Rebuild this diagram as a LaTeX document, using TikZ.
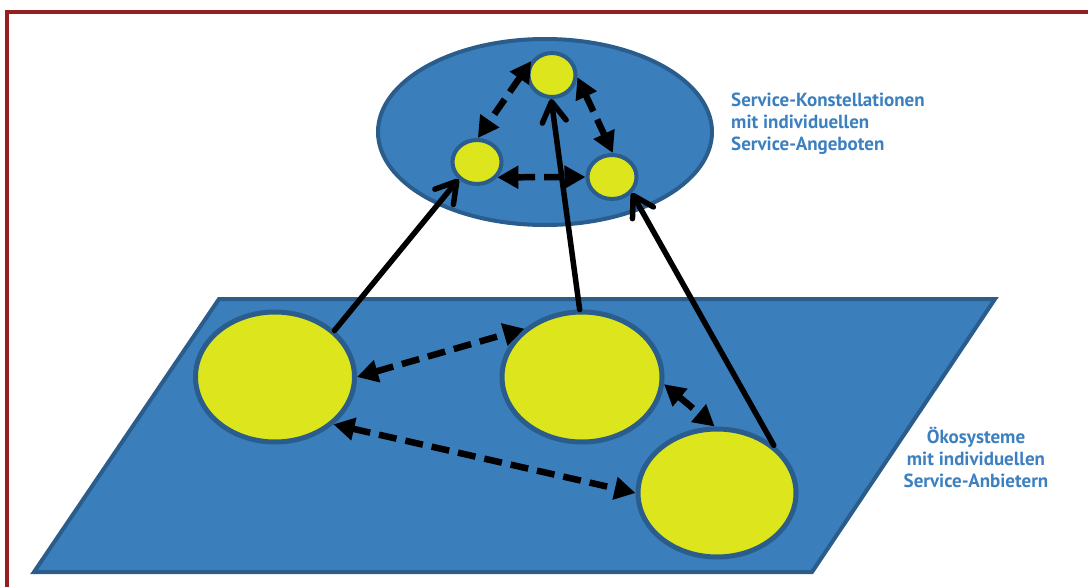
\documentclass[tikz,border=0pt]{standalone}
\usepackage{fontspec}
\setsansfont{PT Sans}
\usetikzlibrary{shapes.geometric,arrows.meta}
\definecolor{bluefill}{RGB}{58,126,187}
\definecolor{blueedge}{RGB}{42,92,140}
\definecolor{yell}{RGB}{221,230,28}
\definecolor{framered}{RGB}{150,30,30}
\definecolor{txtblue}{RGB}{60,128,192}
\begin{document}
\begin{tikzpicture}[x=1pt,y=-1pt,
  bigyellow/.style={ellipse, fill=yell, draw=blueedge, line width=5pt, inner sep=0pt, outer sep=2.5pt},
  smallyellow/.style={ellipse, fill=yell, draw=blueedge, line width=4pt, inner sep=0pt, outer sep=2pt},
  solidarrow/.style={line width=5.5pt, line cap=round, -{Straight Barb[length=20pt,width=24pt,line cap=round,line join=round]}},
  dasharrow/.style={line width=6.5pt, dash pattern=on 18pt off 9pt, {Triangle[length=21pt,width=22pt]}-{Triangle[length=21pt,width=22pt]}},
  label/.style={inner sep=0pt, text=txtblue, font=\sffamily\bfseries\fontsize{19}{22}\selectfont}
]
\useasboundingbox (0,0) rectangle (1088,587);
\draw[framered, line width=4pt] (7,587) -- (7,12) -- (1088,12);
% plane
\draw[fill=bluefill, draw=blueedge, line width=4pt, line join=miter] (219,299) -- (995,299) -- (812,572) -- (34,572) -- cycle;
% constellation ellipse
\node[ellipse, fill=bluefill, draw=blueedge, line width=4pt, inner sep=0pt, minimum width=334pt, minimum height=186pt] (E) at (545,132) {};
% ecosystems
\node[bigyellow, minimum width=159pt, minimum height=130pt] (A) at (275,377) {};
\node[bigyellow, minimum width=160pt, minimum height=130pt] (B) at (582,377) {};
\node[bigyellow, minimum width=158pt, minimum height=128pt] (C) at (717,493) {};
% service offers
\node[smallyellow, minimum width=47pt, minimum height=44pt] (T) at (552,75) {};
\node[smallyellow, minimum width=49pt, minimum height=44pt] (L) at (477,162) {};
\node[smallyellow, minimum width=49pt, minimum height=44pt] (R) at (612,177) {};
% dashed double arrows
\draw[dasharrow] (A.0) -- (B.140);
\draw[dasharrow] (A.-39) -- (C.180);
\draw[dasharrow] (B.-5) -- (C.92);
\draw[dasharrow] (T.146) -- (L.88);
\draw[dasharrow] (T.-5) -- (R.88);
\draw[dasharrow] (L.-37) -- (R.180);
% solid arrows
\draw[solidarrow] (A.38) -- (L.223);
\draw[solidarrow] (B.92) -- (T.268);
\draw[solidarrow] (C.40) -- (R.-39);
% labels
\node[label, anchor=north west, align=left] (t1) at (731,93) {Service-Konstellationen\\mit individuellen\\Service-Angeboten};
\node[label, anchor=north, align=center] (t2) at (976,427) {Ökosysteme\\mit individuellen\\Service-Anbietern};
\end{tikzpicture}
\end{document}
